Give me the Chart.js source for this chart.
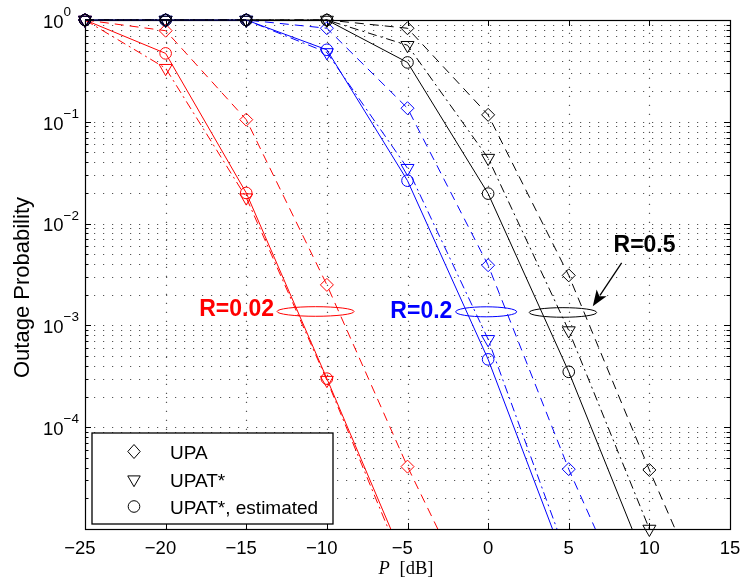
<!DOCTYPE html>
<html><head><meta charset="utf-8">
<script src="https://cdn.jsdelivr.net/npm/chart.js@4/dist/chart.umd.min.js"></script>
<style>html,body{margin:0;padding:0;background:#fff;} canvas{display:block;}</style>
</head><body>
<canvas id="c" width="742" height="586" style="width:742px;height:586px"></canvas>
<script>
// ---- data ----
const P_dB = [-25, -20, -15, -10, -5, 0, 5, 10, 15];
const xTickValues = [-25, -20, -15, -10, -5, 0, 5, 10, 15];
const yTickExponents = [0, -1, -2, -3, -4];
const seriesNames = ['UPA', 'UPAT*', 'UPAT*, estimated'];
const rateLabels = ['R=0.02', 'R=0.2', 'R=0.5'];

// R = 0.02 (red)
const R002_UPA  = [1, 0.785, 0.105, 2.5e-3, 4.1e-5, 9.6e-7];
const R002_UPAT = [1, 0.336, 0.018, 2.9e-4, 3.5e-6];
const R002_EST  = [1, 0.47, 0.02, 3.0e-4, 4.1e-6];
// R = 0.2 (blue)
const R02_UPA  = [1, 1, 1, 0.83, 0.136, 3.9e-3, 3.87e-5, 6.4e-7];
const R02_UPAT = [1, 1, 1, 0.48, 0.035, 7.3e-4, 4.8e-6];
const R02_EST  = [1, 1, 1, 0.51, 0.0264, 4.64e-4, 3.8e-6];
// R = 0.5 (black)
const R05_UPA  = [1, 1, 1, 1, 0.83, 0.117, 3.1e-3, 3.8e-5, 5.8e-7];
const R05_UPAT = [1, 1, 1, 1, 0.565, 0.044, 8.9e-4, 1.0e-5];
const R05_EST  = [1, 1, 1, 1, 0.383, 0.0197, 3.5e-4, 3.8e-6];

// ---- styling ----
const SANS = '"Liberation Sans", Arial, Helvetica, sans-serif';
const SERIF = '"Liberation Serif", "Times New Roman", serif';
const RED = '#ff0000', BLUE = '#0000ff', BLACK = '#000000';
const STY = {
  upa:  {pointStyle: 'rectRot',  radius: 6.5, rotation: 0,   dash: [9, 6]},
  upat: {pointStyle: 'triangle', radius: 7.5, rotation: 180, dash: [9, 4, 2, 4]},
  est:  {pointStyle: 'circle',   radius: 5.8, rotation: 0,   dash: []}
};
function pts(vals) { return vals.map((v, i) => ({x: P_dB[i], y: v})); }
function ds(label, vals, color, kind, order, clipBottom) {
  const s = STY[kind];
  return {
    label, data: pts(vals), borderColor: color, borderWidth: 1, borderDash: s.dash,
    pointStyle: s.pointStyle, pointRadius: s.radius, pointHoverRadius: s.radius,
    pointRotation: s.rotation, pointBorderColor: color,
    pointBackgroundColor: 'rgba(0,0,0,0)', pointBorderWidth: 1,
    fill: false, tension: 0, order,
    clip: {left: 12, top: 12, right: 0, bottom: clipBottom || 0}
  };
}

// ---- annotation placement (data coordinates; sizes in px) ----
const ANNO = [
  {text: rateLabels[0], color: RED,   tx: -15.6, ty: 1.43e-3, ex: -10.7, ey: 1.37e-3, rx: 38.5, ry: 4.8},
  {text: rateLabels[1], color: BLUE,  tx: -4.14, ty: 1.38e-3, ex: -0.12, ey: 1.36e-3, rx: 30.5, ry: 5},
  {text: rateLabels[2], color: BLACK, tx: 9.70,  ty: 6.13e-3, ex: 4.64,  ey: 1.34e-3, rx: 33.7, ry: 4.8}
];
const ARROW = {x0: 8.28, y0: 4.12e-3, x1: 6.49, y1: 1.545e-3};

const gridPlugin = {
  id: 'matlabAxes',
  beforeDatasetsDraw(chart) {
    const {ctx, chartArea: a, scales: {x, y}} = chart;
    ctx.save();
    // dotted grid
    ctx.strokeStyle = '#555';
    ctx.lineWidth = 1.2;
    ctx.setLineDash([1.2, 7.8]);
    xTickValues.forEach(v => {
      if (v <= x.min || v >= x.max) return;
      const px = Math.round(x.getPixelForValue(v)) + 0.5;
      ctx.beginPath(); ctx.moveTo(px, a.bottom); ctx.lineTo(px, a.top); ctx.stroke();
    });
    const eMin = Math.round(Math.log10(y.min)), eMax = Math.round(Math.log10(y.max));
    for (let e = eMin; e < eMax; e++) {
      for (let m = 1; m <= 9; m++) {
        const v = m * Math.pow(10, e);
        if (v <= y.min * 1.0001) continue;
        const py = Math.round(y.getPixelForValue(v)) + 0.5;
        ctx.beginPath(); ctx.moveTo(a.left, py); ctx.lineTo(a.right, py); ctx.stroke();
      }
    }
    ctx.setLineDash([]);
    // box
    ctx.strokeStyle = '#000';
    ctx.lineWidth = 1.2;
    ctx.strokeRect(a.left + 0.5, a.top + 0.5, a.right - a.left, a.bottom - a.top);
    // ticks
    ctx.lineWidth = 1;
    const TL = 6, TS = 3.5;
    xTickValues.forEach(v => {
      const px = Math.round(x.getPixelForValue(v)) + 0.5;
      ctx.beginPath();
      ctx.moveTo(px, a.bottom); ctx.lineTo(px, a.bottom - TL);
      ctx.moveTo(px, a.top); ctx.lineTo(px, a.top + TL);
      ctx.stroke();
    });
    for (let e = eMin; e <= eMax; e++) {
      for (let m = 1; m <= 9; m++) {
        const v = m * Math.pow(10, e);
        if (v > y.max * 1.0001) break;
        const py = Math.round(y.getPixelForValue(v)) + 0.5;
        const L = m === 1 ? TL : TS;
        ctx.beginPath();
        ctx.moveTo(a.left, py); ctx.lineTo(a.left + L, py);
        ctx.moveTo(a.right, py); ctx.lineTo(a.right - L, py);
        ctx.stroke();
      }
    }
    ctx.restore();
  },
  afterDatasetsDraw(chart) {
    const {ctx, chartArea: a, scales: {x, y}} = chart;
    ctx.save();
    // annotations
    ANNO.forEach(n => {
      ctx.strokeStyle = n.color; ctx.lineWidth = 1;
      ctx.beginPath();
      ctx.ellipse(x.getPixelForValue(n.ex), y.getPixelForValue(n.ey), n.rx, n.ry, 0, 0, Math.PI * 2);
      ctx.stroke();
      ctx.fillStyle = n.color;
      ctx.font = 'bold 23px ' + SANS;
      ctx.textAlign = 'center'; ctx.textBaseline = 'middle';
      ctx.fillText(n.text, x.getPixelForValue(n.tx), y.getPixelForValue(n.ty));
    });
    // arrow
    const ax0 = x.getPixelForValue(ARROW.x0), ay0 = y.getPixelForValue(ARROW.y0);
    const ax1 = x.getPixelForValue(ARROW.x1), ay1 = y.getPixelForValue(ARROW.y1);
    const dx = ax1 - ax0, dy = ay1 - ay0, len = Math.hypot(dx, dy);
    const ux = dx / len, uy = dy / len, HL = 16, HW = 6;
    const bx = ax1 - ux * HL, by = ay1 - uy * HL;
    ctx.strokeStyle = '#000'; ctx.fillStyle = '#000'; ctx.lineWidth = 1.3;
    ctx.beginPath(); ctx.moveTo(ax0, ay0); ctx.lineTo(bx + ux * 3, by + uy * 3); ctx.stroke();
    ctx.beginPath();
    ctx.moveTo(ax1, ay1);
    ctx.lineTo(bx - uy * HW, by + ux * HW);
    ctx.lineTo(bx + ux * 4, by + uy * 4);
    ctx.lineTo(bx + uy * HW, by - ux * HW);
    ctx.closePath(); ctx.fill();

    // legend box
    const L = a.left + 7, B = a.bottom - 5, W = 241, H = 91;
    ctx.fillStyle = '#fff';
    ctx.fillRect(L, B - H, W, H);
    ctx.strokeStyle = '#000'; ctx.lineWidth = 1.3;
    ctx.strokeRect(L, B - H, W, H);
    const mx = L + 42, tx = L + 78;
    const rows = [B - H + 18.5, B - H + 46.5, B - H + 73.5];
    ctx.lineWidth = 1;
    ctx.beginPath();
    ctx.moveTo(mx, rows[0] - 7); ctx.lineTo(mx + 6.2, rows[0]); ctx.lineTo(mx, rows[0] + 7); ctx.lineTo(mx - 6.2, rows[0]); ctx.closePath(); ctx.stroke();
    const r = 7.2;
    ctx.beginPath();
    ctx.moveTo(mx, rows[1] + r); ctx.lineTo(mx + r * 0.866, rows[1] - r / 2); ctx.lineTo(mx - r * 0.866, rows[1] - r / 2); ctx.closePath(); ctx.stroke();
    ctx.beginPath(); ctx.arc(mx, rows[2], 5.8, 0, Math.PI * 2); ctx.stroke();
    ctx.fillStyle = '#000';
    ctx.font = '19px ' + SANS;
    ctx.textAlign = 'left'; ctx.textBaseline = 'alphabetic';
    seriesNames.forEach((s, i) => ctx.fillText(s, tx, rows[i] + 7));
    ctx.restore();
  },
  afterDraw(chart) {
    const {ctx, chartArea: a, scales: {y}} = chart;
    ctx.save();
    ctx.fillStyle = '#000';
    ctx.textAlign = 'left'; ctx.textBaseline = 'alphabetic';
    yTickExponents.forEach(e => {
      const py = y.getPixelForValue(Math.pow(10, e));
      ctx.font = '18.5px ' + SANS;
      const lx = 43;
      ctx.fillText('10', lx, py + 7.8);
      const w = ctx.measureText('10').width;
      ctx.font = '13.5px ' + SANS;
      ctx.fillText(e < 0 ? '\u2212' + (-e) : String(e), lx + w, py - 4);
    });
    ctx.save();
    ctx.translate(29, (a.top + a.bottom) / 2 + 13);
    ctx.rotate(-Math.PI / 2);
    ctx.font = '22px ' + SANS;
    ctx.textAlign = 'center';
    ctx.fillText('Outage Probability', 0, 0);
    ctx.restore();
    const cx = (a.left + a.right) / 2;
    ctx.font = 'italic 18.5px ' + SERIF;
    ctx.fillText('P', cx - 29, 574);
    ctx.font = '18.5px ' + SERIF;
    ctx.fillText('[dB]', cx - 8, 574);
    ctx.restore();
  }
};

new Chart(document.getElementById('c'), {
  type: 'line',
  data: {
    datasets: [
      ds('R=0.02 UPA', R002_UPA, RED, 'upa', 3),
      ds('R=0.02 UPAT*', R002_UPAT, RED, 'upat', 3),
      ds('R=0.02 UPAT*, estimated', R002_EST, RED, 'est', 3),
      ds('R=0.2 UPA', R02_UPA, BLUE, 'upa', 2),
      ds('R=0.2 UPAT*', R02_UPAT, BLUE, 'upat', 2),
      ds('R=0.2 UPAT*, estimated', R02_EST, BLUE, 'est', 2),
      ds('R=0.5 UPA', R05_UPA, BLACK, 'upa', 1),
      ds('R=0.5 UPAT*', R05_UPAT, BLACK, 'upat', 1, 14),
      ds('R=0.5 UPAT*, estimated', R05_EST, BLACK, 'est', 1)
    ]
  },
  options: {
    responsive: false,
    animation: false,
    events: [],
    layout: {padding: {left: 0, right: 12, top: 20, bottom: 0}},
    plugins: {legend: {display: false}, tooltip: {enabled: false}, title: {display: false}},
    scales: {
      x: {
        type: 'linear', min: -25, max: 15,
        afterBuildTicks: s => { s.ticks = xTickValues.map(v => ({value: v})); },
        afterFit: s => { s.height = 57; s.paddingLeft = 0; s.paddingRight = 0; },
        grid: {display: false, drawTicks: false},
        border: {display: false},
        ticks: {
          autoSkip: false, maxRotation: 0, padding: 9, color: '#000',
          font: {family: SANS, size: 18.5},
          callback: v => v < 0 ? '\u2212' + (-v) + '\u2007' : String(v)
        }
      },
      y: {
        type: 'logarithmic', min: 1e-5, max: 1,
        afterFit: s => { s.width = 85; s.paddingTop = 0; s.paddingBottom = 0; },
        grid: {display: false, drawTicks: false},
        border: {display: false},
        ticks: {display: false}
      }
    }
  },
  plugins: [gridPlugin]
});
</script>
</body></html>
